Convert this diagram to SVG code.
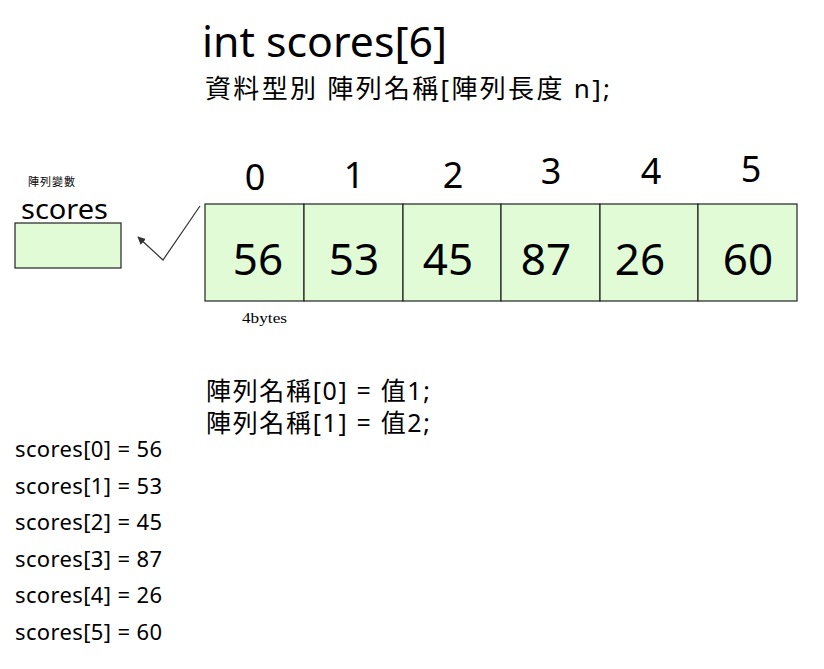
<svg xmlns="http://www.w3.org/2000/svg" width="824" height="669" viewBox="0 0 824 669">
<style>
text{font-family:"Noto Sans","Noto Sans CJK TC",sans-serif;fill:#000}
.cell{fill:#e0fbd6;stroke:#222;stroke-width:1.2}
.idx{font-size:36px;text-anchor:middle}
.val{font-size:44px;text-anchor:middle}
.lst{font-size:22px}
.conn{fill:none;stroke:#333;stroke-width:1.2}
</style>
<defs>
<marker id="ah" viewBox="0 0 10 10" refX="9" refY="5" markerWidth="8" markerHeight="8" orient="auto-start-reverse" markerUnits="userSpaceOnUse">
<path d="M0,0 L10,5 L0,10 z" fill="#333"/>
</marker>
</defs>
<rect width="824" height="669" fill="#fff"/>
<text x="202" y="57" font-size="41" textLength="245" lengthAdjust="spacingAndGlyphs">int scores[6]</text>
<text x="205" y="98" font-size="26" textLength="405" lengthAdjust="spacing">資料型別 陣列名稱[陣列長度 n];</text>
<g id="var">
<text x="28" y="186" font-size="11" textLength="47" lengthAdjust="spacing">陣列變數</text>
<text x="21" y="219" font-size="28" textLength="87" lengthAdjust="spacingAndGlyphs">scores</text>
<rect class="cell" x="15" y="223" width="106" height="45"/>
</g>
<g id="connectors">
<polyline class="conn" points="200,206 163,260 138,237" marker-end="url(#ah)"/>
</g>
<g id="cell0"><rect class="cell" x="205" y="204" width="99" height="97"/><text class="idx" x="255" y="190">0</text><text class="val" x="258" y="275">56</text></g>
<g id="cell1"><rect class="cell" x="304" y="204" width="99" height="97"/><text class="idx" x="354" y="188">1</text><text class="val" x="354" y="275">53</text></g>
<g id="cell2"><rect class="cell" x="403" y="204" width="98" height="97"/><text class="idx" x="453" y="188">2</text><text class="val" x="448" y="275">45</text></g>
<g id="cell3"><rect class="cell" x="501" y="204" width="99" height="97"/><text class="idx" x="551" y="184">3</text><text class="val" x="546" y="275">87</text></g>
<g id="cell4"><rect class="cell" x="600" y="204" width="98" height="97"/><text class="idx" x="651" y="184">4</text><text class="val" x="640" y="275">26</text></g>
<g id="cell5"><rect class="cell" x="698" y="204" width="99" height="97"/><text class="idx" x="751" y="182">5</text><text class="val" x="748" y="275">60</text></g>
<text x="242" y="323" font-size="15" textLength="45" lengthAdjust="spacingAndGlyphs" style="font-family:'Liberation Serif',serif">4bytes</text>
<text x="206" y="400" font-size="25" textLength="224" lengthAdjust="spacing">陣列名稱[0] = 值1;</text>
<text x="206" y="432" font-size="25" textLength="224" lengthAdjust="spacing">陣列名稱[1] = 值2;</text>
<text class="lst" x="15" y="457" textLength="147" lengthAdjust="spacing">scores[0] = 56</text>
<text class="lst" x="15" y="494" textLength="147" lengthAdjust="spacing">scores[1] = 53</text>
<text class="lst" x="15" y="530" textLength="147" lengthAdjust="spacing">scores[2] = 45</text>
<text class="lst" x="15" y="567" textLength="147" lengthAdjust="spacing">scores[3] = 87</text>
<text class="lst" x="15" y="603" textLength="147" lengthAdjust="spacing">scores[4] = 26</text>
<text class="lst" x="15" y="640" textLength="147" lengthAdjust="spacing">scores[5] = 60</text>
</svg>
